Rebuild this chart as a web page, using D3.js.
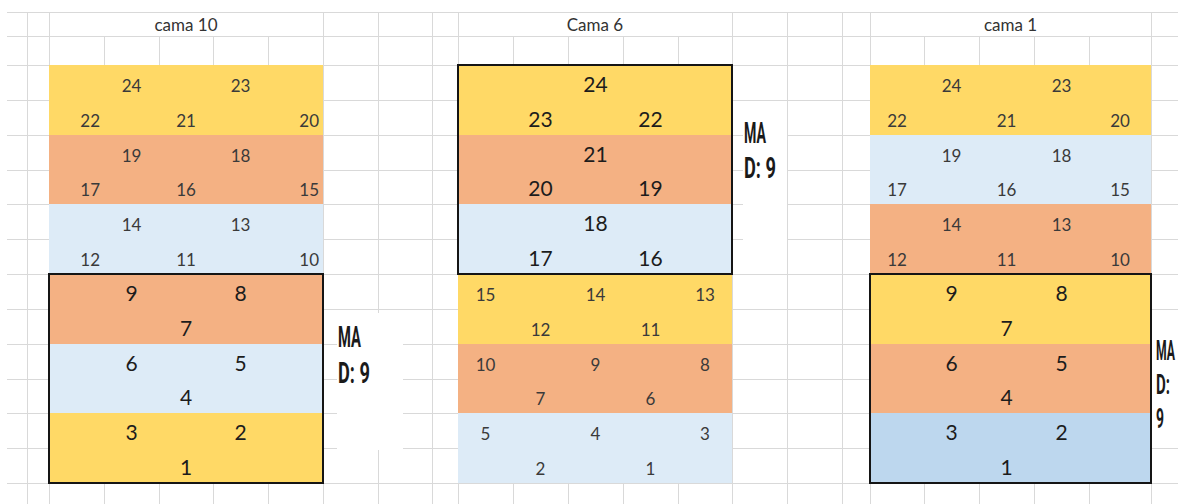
<!DOCTYPE html>
<html>
<head>
<meta charset="utf-8">
<script src="https://cdn.jsdelivr.net/npm/d3@7"></script>
<style>
  html, body { margin: 0; padding: 0; background: #fff; }
  svg { display: block; }
</style>
</head>
<body>
<svg id="chart" width="1178" height="504"></svg>
<script>
// ---------------- DATA ----------------
const bedTitles = ["cama 10", "Cama 6", "cama 1"];

// band colour keys, top to bottom (each band = 2 rows)
const cama10Bands = ["yellow", "orange", "lightblue", "orange", "lightblue", "yellow"];
const cama6Bands  = ["yellow", "orange", "lightblue", "yellow", "orange", "lightblue"];
const cama1Bands  = ["yellow", "lightblue", "orange", "yellow", "orange", "blue"];

// cell numbers, 12 rows x 5 columns (null = empty cell)
const cama10Cells = [
  [null, 24, null, 23, null],
  [22, null, 21, null, 20],
  [null, 19, null, 18, null],
  [17, null, 16, null, 15],
  [null, 14, null, 13, null],
  [12, null, 11, null, 10],
  [null, 9, null, 8, null],
  [null, null, 7, null, null],
  [null, 6, null, 5, null],
  [null, null, 4, null, null],
  [null, 3, null, 2, null],
  [null, null, 1, null, null]
];
const cama6Cells = [
  [null, null, 24, null, null],
  [null, 23, null, 22, null],
  [null, null, 21, null, null],
  [null, 20, null, 19, null],
  [null, null, 18, null, null],
  [null, 17, null, 16, null],
  [15, null, 14, null, 13],
  [null, 12, null, 11, null],
  [10, null, 9, null, 8],
  [null, 7, null, 6, null],
  [5, null, 4, null, 3],
  [null, 2, null, 1, null]
];
const cama1Cells = [
  [null, 24, null, 23, null],
  [22, null, 21, null, 20],
  [null, 19, null, 18, null],
  [17, null, 16, null, 15],
  [null, 14, null, 13, null],
  [12, null, 11, null, 10],
  [null, 9, null, 8, null],
  [null, null, 7, null, null],
  [null, 6, null, 5, null],
  [null, null, 4, null, null],
  [null, 3, null, 2, null],
  [null, null, 1, null, null]
];

// boxed (highlighted) band range per bed: [firstBand, lastBandExclusive]
const boxedBands = [[3, 6], [0, 3], [3, 6]];

// annotation lines per bed
const cama10Note = ["MA", "D: 9"];
const cama6Note  = ["MA", "D: 9"];
const cama1Note  = ["MA", "D:", "9"];

// ---------------- LAYOUT / STYLE ----------------
const W = 1178, H = 504;
const colors = { yellow: "#FFD966", orange: "#F4B183", lightblue: "#DDEBF7", blue: "#BDD7EE" };

// spreadsheet column & row edges (pixels)
const colEdges = [27, 49, 104, 159, 213, 268, 323, 378, 432, 458, 513, 568, 623, 678, 732, 787, 842, 870, 924, 979, 1034, 1089, 1151];
const rowEdges = [12, 36, 65, 100, 135, 170, 204, 239, 274, 309, 344, 379, 413, 448, 483, 504];

const colScale = d3.scaleLinear().domain(d3.range(colEdges.length)).range(colEdges);
const rowScale = d3.scaleLinear().domain(d3.range(rowEdges.length)).range(rowEdges);

const bedStartCol = [1, 9, 17];   // index into colEdges of each bed's left edge
const bedStartRow = 2;            // index into rowEdges of first band row
const headerRow = 0;

const beds = [
  { title: bedTitles[0], bands: cama10Bands, cells: cama10Cells, boxed: boxedBands[0], note: cama10Note,
    noteBox: [337, 313, 403, 450], noteX: 338, noteY0: 347, noteDy: 36, noteSize: 30, noteLen: [23, 32] },
  { title: bedTitles[1], bands: cama6Bands, cells: cama6Cells, boxed: boxedBands[1], note: cama6Note,
    noteBox: [743, 113, 787, 242], noteX: 744, noteY0: 143, noteDy: 35, noteSize: 30, noteLen: [22, 32] },
  { title: bedTitles[2], bands: cama1Bands, cells: cama1Cells, boxed: boxedBands[2], note: cama1Note,
    noteBox: [1152, 313, 1178, 446], noteX: 1156, noteY0: 360, noteDy: 34, noteSize: 28, noteLen: [19, 14, 8] }
];

const svg = d3.select("#chart");
svg.append("rect").attr("width", W).attr("height", H).attr("fill", "#fff");

// ---------- grid ----------
const grid = svg.append("g").attr("stroke", "#d9d9d9").attr("stroke-width", 1).attr("shape-rendering", "crispEdges");
grid.selectAll("line.h").data(rowEdges.slice(0, -1)).join("line")
  .attr("x1", 7).attr("x2", W).attr("y1", d => d + 0.5).attr("y2", d => d + 0.5);
colEdges.forEach((x, i) => {
  const inner = bedStartCol.some(s => i > s && i < s + 5);
  grid.append("line")
    .attr("x1", x + 0.5).attr("x2", x + 0.5)
    .attr("y1", inner ? rowScale(headerRow + 1) : rowScale(headerRow))
    .attr("y2", H);
});

// ---------- beds ----------
beds.forEach((bed, bi) => {
  const c0 = bedStartCol[bi];
  const x = d3.scaleLinear().domain([0, 1, 2, 3, 4, 5]).range(d3.range(6).map(k => colScale(c0 + k)));
  const y = r => rowScale(bedStartRow + r);
  const g = svg.append("g");

  // title
  g.append("text")
    .attr("x", (x(0) + x(5)) / 2).attr("y", rowScale(headerRow + 1) - 5)
    .attr("text-anchor", "middle")
    .attr("font-family", "Lato, 'Open Sans', sans-serif").attr("font-size", 17)
    .attr("fill", "#333").text(bed.title);

  // bands
  g.selectAll("rect.band").data(bed.bands).join("rect")
    .attr("x", x(0)).attr("width", x(5) - x(0))
    .attr("y", (d, i) => y(i * 2)).attr("height", (d, i) => y(i * 2 + 2) - y(i * 2))
    .attr("fill", d => colors[d]).attr("shape-rendering", "crispEdges");

  // numbers
  const cells = [];
  bed.cells.forEach((row, r) => row.forEach((v, c) => { if (v !== null) cells.push({ v, r, c }); }));
  const isBoxed = r => Math.floor(r / 2) >= bed.boxed[0] && Math.floor(r / 2) < bed.boxed[1];
  g.selectAll("text.num").data(cells).join("text")
    .attr("class", "num")
    .each(function (d) {
      const boxed = isBoxed(d.r);
      const right = bi === 0 && !boxed && (d.c === 0 || d.c === 4);
      d3.select(this)
        .attr("x", right ? x(d.c + 1) - 4 : (x(d.c) + x(d.c + 1)) / 2)
        .attr("text-anchor", right ? "end" : "middle")
        .attr("y", y(d.r + 1) - 8)
        .attr("font-family", "Lato, 'Open Sans', sans-serif")
        .attr("font-size", boxed ? 21 : 17)
        .attr("fill", boxed ? "#1c1c1c" : "#3a3a3a")
        .text(d.v);
    });

  // black box
  g.append("rect")
    .attr("x", x(0)).attr("y", y(bed.boxed[0] * 2))
    .attr("width", x(5) - x(0)).attr("height", y(bed.boxed[1] * 2) - y(bed.boxed[0] * 2))
    .attr("fill", "none").attr("stroke", "#151515").attr("stroke-width", 2);

  // annotation white box + condensed text (squeezed horizontally)
  const nb = bed.noteBox;
  svg.append("rect").attr("x", nb[0]).attr("y", nb[1]).attr("width", nb[2] - nb[0]).attr("height", nb[3] - nb[1])
    .attr("fill", "#fff");
  svg.selectAll(null).data(bed.note).join("text")
    .attr("x", 0).attr("y", 0)
    .attr("font-family", "Roboto, 'DejaVu Sans Condensed', sans-serif")
    .attr("font-weight", 700).attr("font-size", bed.noteSize)
    .attr("fill", "#1a1a1a")
    .text(d => d)
    .each(function (d, i) {
      const natural = this.getComputedTextLength() || 1;
      const sx = bed.noteLen[i] / natural;
      d3.select(this).attr("transform",
        `translate(${bed.noteX},${bed.noteY0 + i * bed.noteDy}) scale(${sx},1)`);
    });
});
</script>
</body>
</html>
